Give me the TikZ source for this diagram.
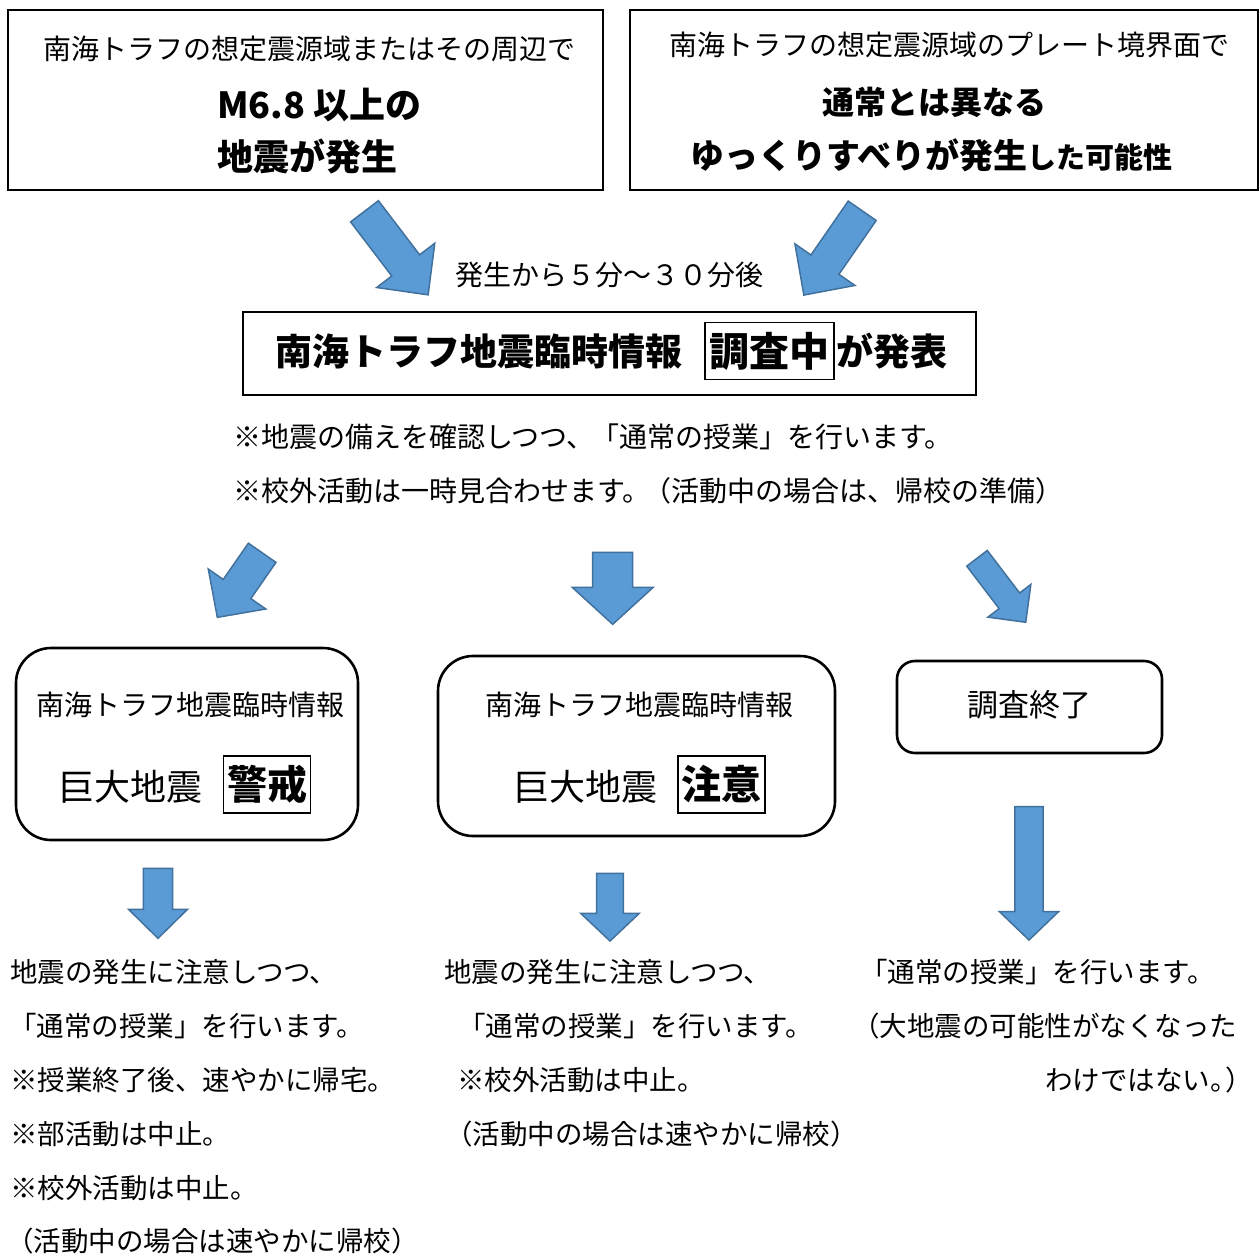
\documentclass[tikz,border=0pt]{standalone}
\usepackage{fontspec}
\setmainfont{Noto Sans CJK JP}
\definecolor{afill}{HTML}{5B9BD5}
\definecolor{aedge}{HTML}{41719C}
\newcommand\fs[1]{\fontsize{#1}{#1}\selectfont}
% tail x, tail y, angle, length, shaft half width, head half width, head length
\newcommand\bArrow[7]{%
  \begin{scope}[shift={(#1,#2)},rotate=#3]
    \filldraw[arr] (0,-#5) -- ({#4-#7},-#5) -- ({#4-#7},-#6) -- (#4,0)
      -- ({#4-#7},#6) -- ({#4-#7},#5) -- (0,#5) -- cycle;
  \end{scope}}
\tikzset{
  sqbox/.style={draw, line width=2.8pt, inner sep=0pt},
  rbox/.style={draw, line width=2.6pt, rounded corners=#1, inner sep=0pt},
  tagbox/.style={draw, line width=1.6pt, inner sep=0pt, minimum width=#1, minimum height=57pt},
  txt/.style={inner sep=0pt, anchor=base},
  txtl/.style={inner sep=0pt, anchor=base west},
  txtr/.style={inner sep=0pt, anchor=base east},
  arr/.style={fill=afill, draw=aedge, line width=1.5pt, line join=miter},
}
\begin{document}
\begin{tikzpicture}[x=1pt,y=-1pt]
\useasboundingbox (0,0) rectangle (1260,1254);
\fill[white] (0,0) rectangle (1260,1254);

% ---- top boxes
\node[sqbox, minimum width=595pt, minimum height=180pt] (boxA) at (305.5,100) {};
\node[sqbox, minimum width=628pt, minimum height=180pt] (boxB) at (944,100) {};
\node[txt, font=\fs{28}] (a1) at (309,59.6) {南海トラフの想定震源域またはその周辺で};
\node[txtl, font=\fs{36}\bfseries] (a2) at (217,118.7) {M6.8 以上の};
\node[txtl, font=\fs{36}\bfseries] (a3) at (217,170.7) {地震が発生};
\node[txt, font=\fs{28}] (b1) at (949,55.6) {南海トラフの想定震源域のプレート境界面で};
\node[txt, font=\fs{32}\bfseries] (b2) at (934,114.2) {通常とは異なる};
\node[txtl] (b3) at (690,168.5) {{\fs{34}\bfseries ゆっくりすべりが発生}{\fs{29}\bfseries した可能性}};

% ---- timing label
\node[txt, font=\fs{28}] (lab) at (609.5,285.6) {発生から５分～３０分後};

% ---- centre box
\node[sqbox, line width=2.5pt, minimum width=733pt, minimum height=83pt] (boxC) at (609.5,353.5) {};
\node[txtl, font=\fs{37}\bfseries] (c1) at (275,365) {南海トラフ地震臨時情報};
\node[tagbox=129pt, font=\fs{40}\bfseries] (c2) at (769.5,351) {調査中};
\node[txtl, font=\fs{37}\bfseries] (c3) at (836,365) {が発表};

\node[txtl, font=\fs{28}] (n1) at (233,447.6) {※地震の備えを確認しつつ、\hspace{-3pt}「通常の授業」を行います。};
\node[txtl, font=\fs{28}] (n2) at (233,501.6) {※校外活動は一時見合わせます。\hspace{-7pt}（活動中の場合は、帰校の準備）};

% ---- second row boxes
\node[rbox=35pt, minimum width=342pt, minimum height=192pt] (boxL) at (187,744) {};
\node[txt, font=\fs{28}] (l1) at (190.5,715.6) {南海トラフ地震臨時情報};
\node[txt, font=\fs{36}] (l2) at (130.3,800.7) {巨大地震};
\node[tagbox=87pt, font=\fs{40}\bfseries] (l3) at (267,784.5) {警戒};

\node[rbox=35pt, minimum width=397pt, minimum height=180pt] (boxM) at (636.5,746) {};
\node[txt, font=\fs{28}] (m1) at (639,715.6) {南海トラフ地震臨時情報};
\node[txt, font=\fs{36}] (m2) at (585,800.7) {巨大地震};
\node[tagbox=87pt, font=\fs{40}\bfseries] (m3) at (721.2,784.5) {注意};

\node[rbox=18pt, minimum width=265pt, minimum height=92pt] (boxR) at (1029.5,707) {};
\node[txt, font=\fs{31}] (r1) at (1029.5,716.8) {調査終了};

% ---- bottom texts
\node[txtl, font=\fs{27.5}] (p1) at (10,982.5) {地震の発生に注意しつつ、};
\node[txtl, font=\fs{27.5}] (p2) at (9,1036.5) {「通常の授業」を行います。};
\node[txtl, font=\fs{27.5}] (p3) at (10,1090.5) {※授業終了後、速やかに帰宅。};
\node[txtl, font=\fs{27.5}] (p4) at (10,1144.5) {※部活動は中止。};
\node[txtl, font=\fs{27.5}] (p5) at (10,1198.5) {※校外活動は中止。};
\node[txtl, font=\fs{27.5}] (p6) at (6,1251.5) {（活動中の場合は速やかに帰校）};

\node[txtl, font=\fs{27.5}] (q1) at (444,982.5) {地震の発生に注意しつつ、};
\node[txtl, font=\fs{27.5}] (q2) at (458,1036.5) {「通常の授業」を行います。};
\node[txtl, font=\fs{27.5}] (q3) at (457,1090.5) {※校外活動は中止。};
\node[txtl, font=\fs{27.5}] (q4) at (445,1144.5) {（活動中の場合は速やかに帰校）};

\node[txtl, font=\fs{27.5}] (s1) at (860,982.5) {「通常の授業」を行います。};
\node[txtl, font=\fs{27.5}] (s2) at (852,1036.5) {（大地震の可能性がなくなった};
\node[txtl, font=\fs{27.5}] (s3) at (1045,1090.5) {わけではない。\hspace{-12pt}）};

% ---- block arrows
\bArrow{364.5}{211.3}{-52.7}{105}{17.5}{36.5}{37}
\bArrow{862.2}{210.8}{-124.7}{102.5}{17}{36.5}{37}
\bArrow{262.2}{552.8}{-124.8}{78.6}{16.8}{35}{34.5}
\bArrow{612.7}{552.3}{-90}{72}{20}{40.5}{37}
\bArrow{977}{558.3}{-52.7}{80.4}{12.9}{27}{27}
\bArrow{158}{868.3}{-90}{70}{14.7}{29.5}{29}
\bArrow{610}{873.3}{-90}{67.7}{13.3}{29.3}{27.7}
\bArrow{1029}{806.7}{-90}{133.3}{14.2}{29.5}{28.3}
\end{tikzpicture}
\end{document}
